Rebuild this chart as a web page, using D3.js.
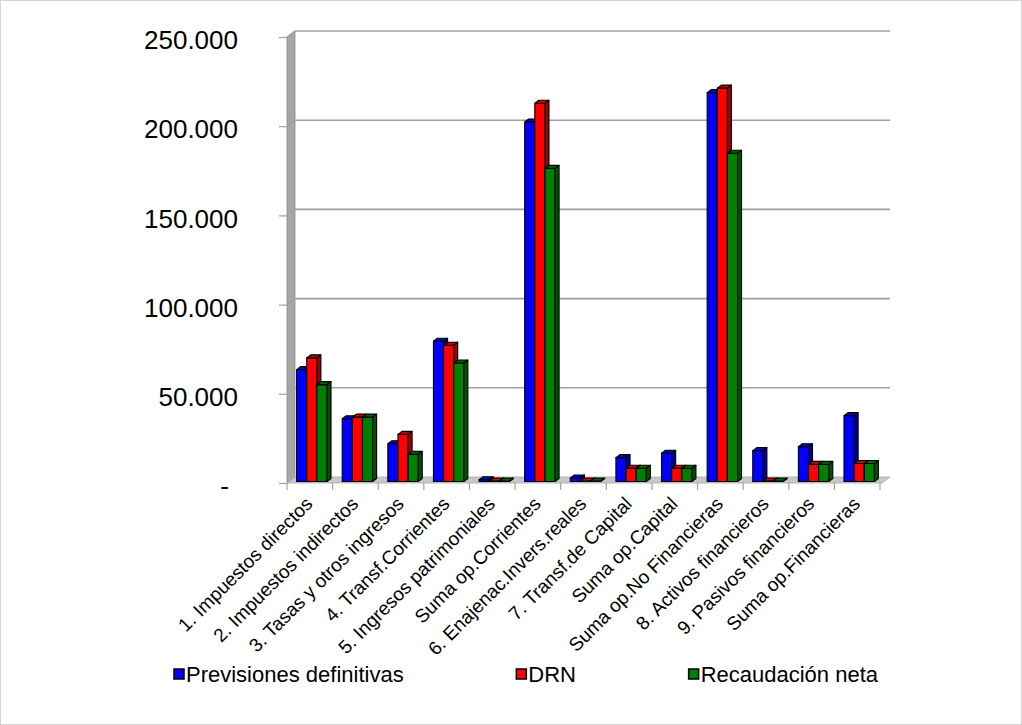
<!DOCTYPE html>
<html>
<head>
<meta charset="utf-8">
<script src="https://cdn.jsdelivr.net/npm/d3@7"></script>
<style>
  html, body { margin: 0; padding: 0; background: #ffffff; }
  svg { display: block; font-family: "Liberation Sans", Arial, sans-serif; }
</style>
</head>
<body>
<svg id="chart" width="1022" height="725"></svg>
<script>
// Budget income chapters (thousands of euros)
const categories = [
  "1. Impuestos directos",
  "2. Impuestos indirectos",
  "3. Tasas y otros ingresos",
  "4. Transf.Corrientes",
  "5. Ingresos patrimoniales",
  "Suma op.Corrientes",
  "6. Enajenac.Invers.reales",
  "7. Transf.de Capital",
  "Suma op.Capital",
  "Suma op.No Financieras",
  "8. Activos financieros",
  "9. Pasivos financieros",
  "Suma op.Financieras"
];
const seriesNames = ["Previsiones definitivas", "DRN", "Recaudación neta"];
const previsiones = [62700, 35200, 21200, 78600, 1000, 201500, 2000, 13400, 15800, 218000, 17300, 19500, 36900];
const drn         = [69300, 36100, 26400, 76400, 300, 212000, 300, 7400, 7400, 220500, 300, 9600, 10100];
const recaudacion = [54300, 36100, 15200, 66400, 200, 175500, 200, 7400, 7400, 184000, 200, 9600, 10100];
const yTicks = [0, 50000, 100000, 150000, 200000, 250000];
const yTickLabels = ["-", "50.000", "100.000", "150.000", "200.000", "250.000"];

const seriesColors = ["#0000ff", "#ff0000", "#008000"];
const values = [previsiones, drn, recaudacion];

const svg = d3.select("#chart");
const W = 1022, H = 725;

svg.append("rect").attr("x", 0.5).attr("y", 0.5).attr("width", W - 1).attr("height", H - 1)
  .attr("fill", "#ffffff").attr("stroke", "#d4d4d4");

// Plot frame (front plane) and 3D depth offset
const plotLeft = 287, plotRight = 882, plotTop = 37, plotBottom = 483;
const DX = 8, DY = -6;

const x = d3.scaleBand().domain(categories).range([plotLeft, plotRight - 2]).padding(0);
const y = d3.scaleLinear().domain([0, 250000]).range([plotBottom, plotTop]);
const xs = d3.scaleBand().domain(seriesNames).range([0, x.bandwidth()]).paddingInner(0).paddingOuter(0.75);

const gridColor = "#a0a0a0";

// Left side wall
svg.append("polygon")
  .attr("points", [[plotLeft, y(250000)], [plotLeft + DX, y(250000) + DY], [plotLeft + DX, y(0) + DY], [plotLeft, y(0)]].join(" "))
  .attr("fill", "#a6a6a6").attr("stroke", "#8c8c8c").attr("stroke-width", 0.8);

// Floor
svg.append("polygon")
  .attr("points", [[plotLeft, y(0)], [plotRight, y(0)], [plotRight + DX, y(0) + DY], [plotLeft + DX, y(0) + DY]].join(" "))
  .attr("fill", "#c8c8c8").attr("stroke", "#a8a8a8").attr("stroke-width", 0.8);

// Gridlines on back wall and across the side wall
const grid = svg.append("g");
yTicks.filter(t => t > 0).forEach(t => {
  grid.append("line")
    .attr("x1", plotLeft + DX).attr("x2", plotRight + DX)
    .attr("y1", y(t) + DY).attr("y2", y(t) + DY)
    .attr("stroke", gridColor).attr("stroke-width", 1.6);
  grid.append("line")
    .attr("x1", plotLeft).attr("x2", plotLeft + DX)
    .attr("y1", y(t)).attr("y2", y(t) + DY)
    .attr("stroke", gridColor).attr("stroke-width", 1.2);
});

// Value axis
const yAxis = svg.append("g")
  .attr("transform", `translate(${plotLeft},0)`)
  .call(d3.axisLeft(y).tickValues(yTicks).tickFormat((d, i) => yTickLabels[i]).tickSize(8).tickPadding(41));
yAxis.select(".domain").remove();
yAxis.selectAll(".tick line").attr("stroke", gridColor).attr("stroke-width", 1.2);
yAxis.selectAll(".tick text")
  .attr("font-size", 26).attr("fill", "#000")
  .attr("font-family", "Liberation Sans, Arial, sans-serif")
  .attr("dy", "0.45em")
  .attr("dx", d => d === 0 ? -9 : 0);

// Category boundary ticks
const bounds = categories.map(c => x(c)).concat([x(categories[categories.length - 1]) + x.bandwidth()]);
svg.append("g").selectAll("line").data(bounds).join("line")
  .attr("x1", d => d).attr("x2", d => d)
  .attr("y1", plotBottom).attr("y2", plotBottom + 7)
  .attr("stroke", gridColor).attr("stroke-width", 1.2);

// Category axis labels, slanted
const xAxis = svg.append("g")
  .attr("transform", `translate(0,${plotBottom})`)
  .call(d3.axisBottom(x).tickSize(0).tickPadding(0));
xAxis.select(".domain").remove();
xAxis.selectAll(".tick text")
  .attr("font-size", 19).attr("fill", "#000")
  .attr("font-family", "Liberation Sans, Arial, sans-serif")
  .attr("text-anchor", "end")
  .attr("y", 0).attr("dy", 0)
  .attr("transform", "translate(4,22) rotate(-45)");

// 3D columns: front face, top face, right side face
const d0 = 0.25, d1 = 0.75;
const bars = svg.append("g");
categories.forEach((c, ci) => {
  seriesNames.forEach((s, si) => {
    const v = values[si][ci];
    const col = d3.color(seriesColors[si]);
    const topCol = col.darker(0.6).formatHex();
    const sideCol = col.darker(1.3).formatHex();
    const bx = x(c) + xs(s);
    const bw = xs.bandwidth();
    const yv = y(v), yb = y(0);
    const sx0 = d0 * DX, sy0 = d0 * DY, sx1 = d1 * DX, sy1 = d1 * DY;
    const g = bars.append("g").attr("stroke", "#000").attr("stroke-width", 1.1).attr("stroke-linejoin", "round");
    g.append("polygon")
      .attr("points", [[bx + sx0, yv + sy0], [bx + bw + sx0, yv + sy0], [bx + bw + sx0, yb + sy0], [bx + sx0, yb + sy0]].join(" "))
      .attr("fill", col.formatHex());
    g.append("polygon")
      .attr("points", [[bx + sx0, yv + sy0], [bx + bw + sx0, yv + sy0], [bx + bw + sx1, yv + sy1], [bx + sx1, yv + sy1]].join(" "))
      .attr("fill", topCol);
    g.append("polygon")
      .attr("points", [[bx + bw + sx0, yv + sy0], [bx + bw + sx1, yv + sy1], [bx + bw + sx1, yb + sy1], [bx + bw + sx0, yb + sy0]].join(" "))
      .attr("fill", sideCol);
  });
});

// Legend: entries spread with equal gaps across the legend box
const legendLeft = 174, legendRight = 878, keySize = 10, keyGap = 2;
const legend = svg.append("g");
const items = seriesNames.map((s, i) => {
  const g = legend.append("g");
  g.append("rect")
    .attr("x", 0).attr("y", 669).attr("width", keySize).attr("height", keySize)
    .attr("fill", seriesColors[i]).attr("stroke", "#000").attr("stroke-width", 1.5);
  const t = g.append("text")
    .attr("x", keySize + keyGap).attr("y", 682)
    .attr("font-size", 22).attr("fill", "#000")
    .text(s);
  return { g, w: keySize + keyGap + t.node().getComputedTextLength() };
});
const totalW = d3.sum(items, d => d.w);
const gap = (legendRight - legendLeft - totalW) / (items.length - 1);
let cx = legendLeft;
items.forEach(it => {
  it.g.attr("transform", `translate(${cx},0)`);
  cx += it.w + gap;
});
</script>
</body>
</html>
